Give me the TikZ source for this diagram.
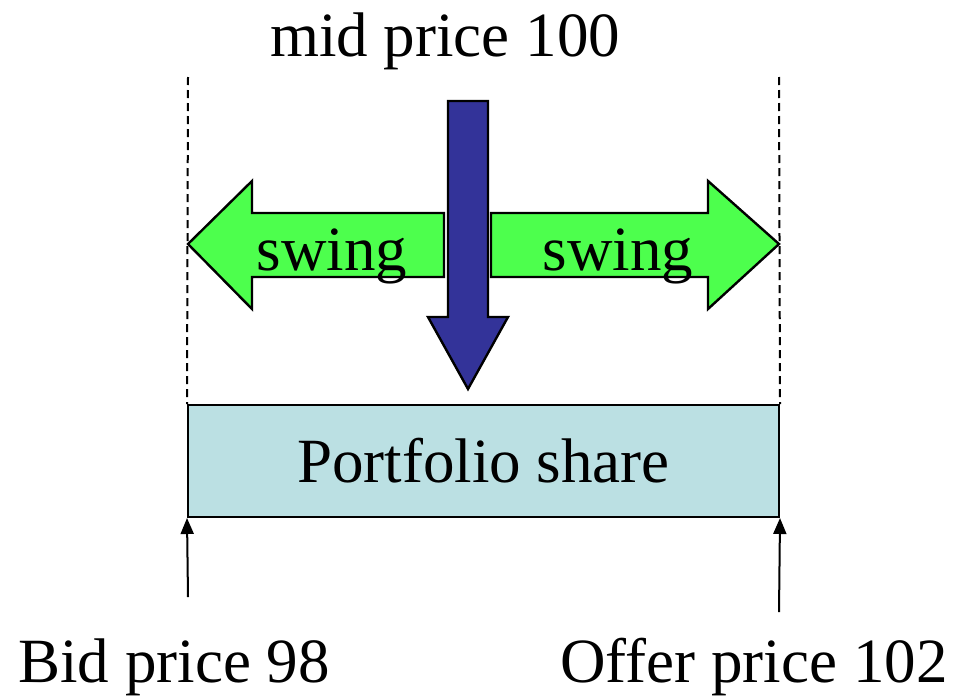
\documentclass[tikz,border=0pt]{standalone}
\usepackage{fontspec}
\setmainfont{Liberation Serif}
\usetikzlibrary{arrows.meta}
\definecolor{swinggreen}{RGB}{77,255,77}
\definecolor{midblue}{RGB}{51,51,153}
\definecolor{sharefill}{RGB}{187,224,227}
\begin{document}
\begin{tikzpicture}[x=0.5pt,y=-0.5pt,
  every node/.style={font=\fontsize{31.5}{38}\selectfont},
  label/.style={inner sep=0pt, anchor=base},
  blockarrow/.style={draw=black, line width=1.2pt, line join=miter},
  guide/.style={line width=1pt, dash pattern=on 4pt off 2.5pt},
  pointer/.style={line width=1pt, -{Triangle[width=6.5pt,length=8pt]}},
  sharebox/.style={draw=black, line width=1pt, fill=sharefill,
    minimum width=295.5pt, minimum height=56pt, inner sep=0pt}]
\useasboundingbox (0,0) rectangle (957,696);

% dashed limits of the swing
\coordinate (gl) at (188,77);
\coordinate (gr) at (779,77);

% the portfolio share band
\node[sharebox] (share) at (483.5,461) {Portfolio share};
\draw[guide] (gl) -- (share.north west);
\draw[guide] (gr) -- (share.north east);

% swing arrows
\path[blockarrow, fill=swinggreen]
  (188,244) -- (252,181) -- (252,213) -- (444,213) -- (444,277)
  -- (252,277) -- (252,309) -- cycle;
\path[blockarrow, fill=swinggreen]
  (491,213) -- (708,213) -- (708,181) -- (779,244) -- (708,309)
  -- (708,277) -- (491,277) -- cycle;
\node[label] (swingL) at (332,270) {swing};
\node[label] (swingR) at (618,270) {swing};

% mid price arrow
\path[blockarrow, fill=midblue]
  (448,101) -- (488,101) -- (488,317) -- (508,317) -- (468,389)
  -- (428,317) -- (448,317) -- cycle;
\node[label] (mid) at (445,56) {mid price 100};

% bid and offer pointers
\coordinate (bidfoot) at (188,597);
\coordinate (offerfoot) at (779,612);
\draw[pointer] (bidfoot) -- (share.south west);
\draw[pointer] (offerfoot) -- (share.south east);
\node[label] (bid) at (174,682) {Bid price 98};
\node[label] (offer) at (754,682) {Offer price 102};
\end{tikzpicture}
\end{document}
